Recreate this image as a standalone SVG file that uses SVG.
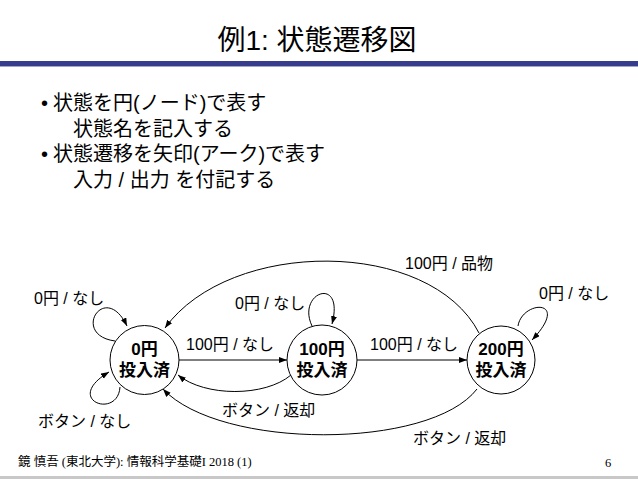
<svg xmlns="http://www.w3.org/2000/svg" width="638" height="479" viewBox="0 0 638 479">
<style>
text{font-family:"Liberation Sans","Noto Sans CJK JP",sans-serif;fill:#000}
.title{font-size:28px}
.bul{font-size:20px}
.lbl{font-size:16px}
.node circle{fill:#fff;stroke:#000;stroke-width:1}
.node text{font-size:17px;font-weight:bold;text-anchor:middle}
.edge{fill:none;stroke:#000;stroke-width:1;marker-end:url(#ah)}
.foot{font-family:"Liberation Serif","Noto Sans CJK JP",serif;font-size:12.5px}
</style>
<defs>
<marker id="ah" markerUnits="userSpaceOnUse" markerWidth="9" markerHeight="7" refX="8" refY="3" orient="auto">
<path d="M0,0 L8,3 L0,6 z" fill="#000"/>
</marker>
</defs>
<rect x="0" y="0" width="638" height="479" fill="#fff"/>
<text class="title" x="317" y="50" text-anchor="middle">例1: 状態遷移図</text>
<rect x="0" y="61" width="638" height="5" fill="#383c8c"/>
<rect x="0" y="66" width="638" height="1" fill="#a3a6d0"/>
<g id="bullets">
<text class="bul" x="41" y="110">•</text>
<text class="bul" x="53" y="110">状態を円(ノード)で表す</text>
<text class="bul" x="73" y="136">状態名を記入する</text>
<text class="bul" x="41" y="161">•</text>
<text class="bul" x="53" y="161">状態遷移を矢印(アーク)で表す</text>
<text class="bul" x="73" y="187">入力 / 出力 を付記する</text>
</g>
<g id="connectors">
<path class="edge" d="M179,360 L287,360"/>
<path class="edge" d="M357,360 L467,360"/>
<path class="edge" d="M291,375 C265,397 205,397 178,375"/>
<path class="edge" d="M479,333 C430,238 230,238 165,328"/>
<path class="edge" d="M477,389 C430,450 220,450 163,389"/>
<path class="edge" d="M115,341 C70,335 105,280 127,326"/>
<path class="edge" d="M120,387 C118,420 62,400 109,372"/>
<path class="edge" d="M312,326 C296,292 345,275 332,324"/>
<path class="edge" d="M518,326 C522,300 572,298 532,340"/>
</g>
<g id="labels">
<text class="lbl" x="34" y="304">0円 / なし</text>
<text class="lbl" x="186" y="350">100円 / なし</text>
<text class="lbl" x="235" y="309">0円 / なし</text>
<text class="lbl" x="370" y="350">100円 / なし</text>
<text class="lbl" x="405" y="269">100円 / 品物</text>
<text class="lbl" x="539" y="299">0円 / なし</text>
<text class="lbl" x="222" y="416">ボタン / 返却</text>
<text class="lbl" x="38" y="427">ボタン / なし</text>
<text class="lbl" x="413" y="444">ボタン / 返却</text>
</g>
<g id="node-0" class="node">
<circle cx="144.5" cy="360" r="34.5"/>
<text x="144.5" y="355">0円</text>
<text x="144.5" y="376">投入済</text>
</g>
<g id="node-100" class="node">
<circle cx="322" cy="360" r="35"/>
<text x="322" y="355">100円</text>
<text x="322" y="376">投入済</text>
</g>
<g id="node-200" class="node">
<circle cx="501" cy="360" r="34"/>
<text x="501" y="355">200円</text>
<text x="501" y="376">投入済</text>
</g>
<text class="foot" x="18" y="466">鏡 慎吾 (東北大学): 情報科学基礎I 2018 (1)</text>
<text class="foot" x="605" y="467">6</text>
<rect x="0" y="476" width="638" height="3" fill="#c8c8c8"/>
</svg>
